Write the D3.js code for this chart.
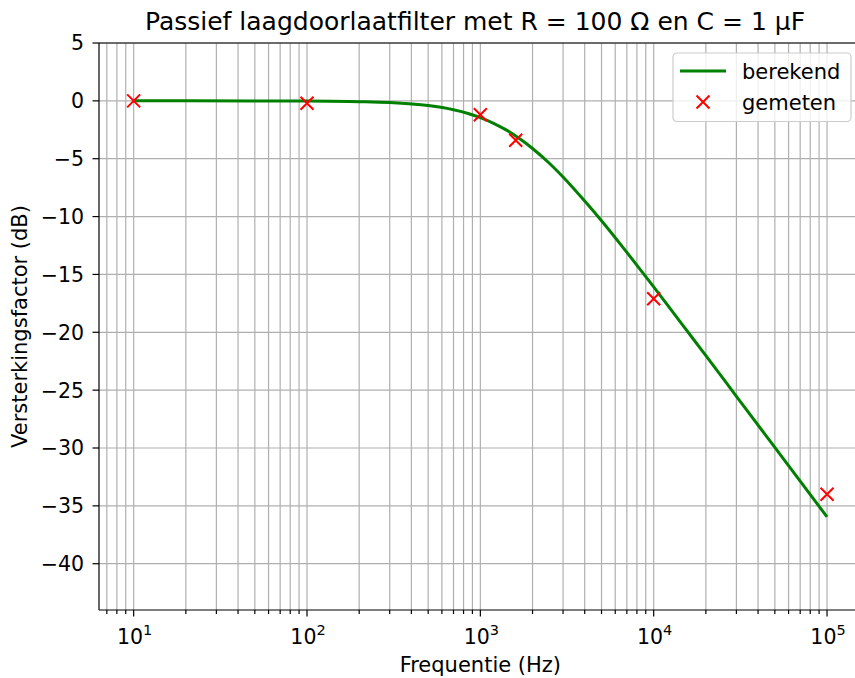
<!DOCTYPE html>
<html>
<head>
<meta charset="utf-8">
<script src="https://cdn.jsdelivr.net/npm/d3@7"></script>
<style>
  body { margin: 0; background: #fff; }
  svg { display: block; font-family: "DejaVu Sans", sans-serif; }
  .grid line { stroke: #b0b0b0; stroke-width: 1.2; }
  .tick-label { font-size: 20.5px; fill: #000; }
</style>
</head>
<body>
<div id="chart"></div>
<script>
// computed curve
const calcFreq = [10, 20, 50, 100, 200, 300, 500, 700, 850, 1000, 1200, 1400, 1600, 1800, 2000, 2500, 3000, 4000, 5000, 7000, 10000, 15000, 20000, 30000, 50000, 70000, 100000];
const calcGain = [0, -0.001, -0.004, -0.017, -0.07, -0.15, -0.41, -0.77, -1.09, -1.45, -1.96, -2.49, -3.03, -3.58, -4.12, -5.39, -6.58, -8.66, -10.36, -13.09, -16.07, -19.56, -22.01, -25.53, -29.95, -32.86, -35.96];

// measured points
const measFreq = [10, 100, 1000, 1600, 10000, 100000];
const measGain = [0, -0.2, -1.2, -3.4, -17.1, -34.0];

const yTicks = [5, 0, -5, -10, -15, -20, -25, -30, -35, -40];
const xDecades = [1, 2, 3, 4, 5];

const W = 855, H = 678;
const margin = { left: 99, top: 43 };
const plotW = 762.7, plotH = 567;

const svg = d3.select('#chart').append('svg')
    .attr('width', W)
    .attr('height', H);

const x = d3.scaleLog()
    .domain([Math.pow(10, 0.8), Math.pow(10, 5.2)])
    .range([margin.left, margin.left + plotW]);

const y = d3.scaleLinear()
    .domain([-44, 5])
    .range([margin.top + plotH, margin.top]);

// minor + major x positions inside the domain
let xMinor = [];
for (let e = 0; e <= 5; e++) {
    for (let m = 1; m <= 9; m++) {
        let v = m * Math.pow(10, e);
        if (v >= x.domain()[0] && v <= x.domain()[1]) xMinor.push(v);
    }
}

// grid
let grid = svg.append('g').attr('class', 'grid');
grid.selectAll('.vx')
    .data(xMinor)
    .enter().append('line')
    .attr('x1', d => x(d)).attr('x2', d => x(d))
    .attr('y1', y.range()[0]).attr('y2', y.range()[1]);
grid.selectAll('.hy')
    .data(yTicks)
    .enter().append('line')
    .attr('x1', x.range()[0]).attr('x2', x.range()[1])
    .attr('y1', d => y(d)).attr('y2', d => y(d));

// calculated line
let line = d3.line()
    .x((d, i) => x(calcFreq[i]))
    .y(d => y(d))
    .curve(d3.curveMonotoneX);

svg.append('path')
    .datum(calcGain)
    .attr('d', line)
    .attr('fill', 'none')
    .attr('stroke', '#008000')
    .attr('stroke-width', 3);

// measured markers
let s = 6.5;
let marks = svg.selectAll('.meas')
    .data(measFreq.map((f, i) => [f, measGain[i]]))
    .enter().append('path')
    .attr('d', d => {
        let cx = x(d[0]), cy = y(d[1]);
        return `M${cx - s},${cy - s}L${cx + s},${cy + s}M${cx - s},${cy + s}L${cx + s},${cy - s}`;
    })
    .attr('stroke', 'red')
    .attr('stroke-width', 2)
    .attr('fill', 'none');

// spines
let spines = svg.append('g').attr('stroke', '#000').attr('stroke-width', 1.2);
spines.append('line')
    .attr('x1', x.range()[0]).attr('x2', x.range()[0])
    .attr('y1', y.range()[0]).attr('y2', y.range()[1]);
spines.append('line')
    .attr('x1', x.range()[0]).attr('x2', x.range()[1])
    .attr('y1', y.range()[0]).attr('y2', y.range()[0]);
spines.append('line')
    .attr('x1', x.range()[0]).attr('x2', x.range()[1])
    .attr('y1', y.range()[1]).attr('y2', y.range()[1]);

// ticks
let bottom = y.range()[0];
spines.selectAll('.minor')
    .data(xMinor)
    .enter().append('line')
    .attr('x1', d => x(d)).attr('x2', d => x(d))
    .attr('y1', bottom)
    .attr('y2', d => bottom + (xDecades.some(e => Math.abs(Math.log10(d) - e) < 1e-9) ? 6.5 : 4));
spines.selectAll('.ytick')
    .data(yTicks)
    .enter().append('line')
    .attr('x1', x.range()[0] - 6.5).attr('x2', x.range()[0])
    .attr('y1', d => y(d)).attr('y2', d => y(d));

// y tick labels
svg.selectAll('.ylab')
    .data(yTicks)
    .enter().append('text')
    .attr('class', 'tick-label')
    .attr('x', x.range()[0] - 15)
    .attr('y', d => y(d))
    .attr('dy', '0.36em')
    .attr('text-anchor', 'end')
    .text(d => d < 0 ? '\u2212' + Math.abs(d) : d);

// x tick labels
let xl = svg.selectAll('.xlab')
    .data(xDecades)
    .enter().append('text')
    .attr('class', 'tick-label')
    .attr('x', d => x(Math.pow(10, d)) + 1)
    .attr('y', bottom + 34)
    .attr('text-anchor', 'middle');
xl.append('tspan').text('10');
xl.append('tspan').attr('dy', -9).attr('font-size', '14.5px').text(d => d);

// axis titles
svg.append('text')
    .attr('x', (x.range()[0] + x.range()[1]) / 2)
    .attr('y', 672)
    .attr('text-anchor', 'middle')
    .attr('font-size', '21px')
    .text('Frequentie (Hz)');

svg.append('text')
    .attr('transform', `translate(27,${(y.range()[0] + y.range()[1]) / 2}) rotate(-90)`)
    .attr('text-anchor', 'middle')
    .attr('font-size', '21px')
    .text('Versterkingsfactor (dB)');

svg.append('text')
    .attr('x', 475)
    .attr('y', 30)
    .attr('text-anchor', 'middle')
    .attr('font-size', '25px')
    .text('Passief laagdoorlaatfilter met R = 100 \u03A9 en C = 1 \u00B5F');

// legend
let lg = svg.append('g').attr('transform', 'translate(673,53)');
lg.append('rect')
    .attr('width', 178).attr('height', 68.5)
    .attr('rx', 4)
    .attr('fill', 'rgba(255,255,255,0.8)')
    .attr('stroke', '#cccccc')
    .attr('stroke-width', 1.2);
lg.append('line')
    .attr('x1', 7).attr('x2', 53)
    .attr('y1', 18).attr('y2', 18)
    .attr('stroke', '#008000').attr('stroke-width', 3);
lg.append('path')
    .attr('d', `M${30 - s},${49 - s}L${30 + s},${49 + s}M${30 - s},${49 + s}L${30 + s},${49 - s}`)
    .attr('stroke', 'red').attr('stroke-width', 2);
lg.append('text').attr('x', 69).attr('y', 18).attr('dy', '0.36em')
    .attr('font-size', '21px').text('berekend');
lg.append('text').attr('x', 69).attr('y', 49).attr('dy', '0.36em')
    .attr('font-size', '21px').text('gemeten');
</script>
</body>
</html>
